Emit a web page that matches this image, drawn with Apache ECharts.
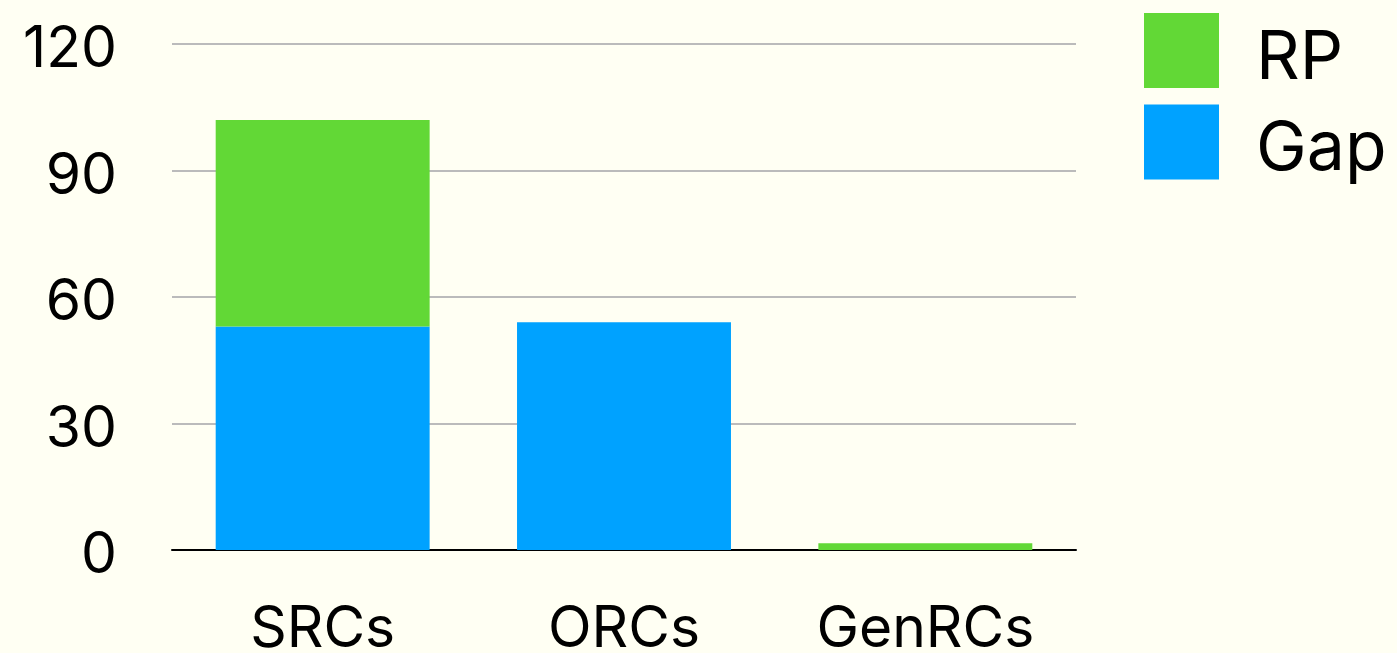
<!DOCTYPE html>
<html>
<head>
<meta charset="utf-8">
<style>
  html, body { margin: 0; padding: 0; background: #FFFFF3; }
  #chart { width: 1397px; height: 653px; }
</style>
<script src="https://cdn.jsdelivr.net/npm/echarts@6/dist/echarts.min.js"></script>
</head>
<body>
<div id="chart"></div>
<script>
  const categories = ['SRCs', 'ORCs', 'GenRCs']
  const gapValues = [53, 54, 0]
  const rpValues = [49, 0, 1.6]
  const yTicks = [0, 30, 60, 90, 120]

  const chart = echarts.init(document.getElementById('chart'))
  chart.setOption({
    backgroundColor: '#FFFFF3',
    animation: false,
    textStyle: { fontFamily: 'Inter' },
    grid: { left: 172, right: 321, top: 44, bottom: 103, outerBoundsMode: 'none' },
    legend: {
      left: 1139,
      top: 8,
      orient: 'vertical',
      itemWidth: 75,
      itemHeight: 75,
      itemGap: 12,
      icon: 'rect',
      data: ['RP', 'Gap'],
      formatter: '{t|{name}}',
      textStyle: {
        color: '#000',
        rich: { t: { fontSize: 68, fontFamily: 'Inter', color: '#000', padding: [16, 0, 0, 32] } }
      }
    },
    xAxis: {
      type: 'category',
      data: categories,
      axisTick: { show: false },
      axisLine: { lineStyle: { color: '#000', width: 2 } },
      axisLabel: { fontSize: 57, color: '#000', margin: 51 }
    },
    yAxis: {
      type: 'value',
      min: yTicks[0],
      max: yTicks[yTicks.length - 1],
      interval: 30,
      axisLine: { show: false },
      axisTick: { show: false },
      axisLabel: { fontSize: 57, color: '#000', margin: 55, verticalAlign: 'top', lineHeight: 12 },
      splitLine: { lineStyle: { color: '#bbbbbb', width: 2 } }
    },
    series: [
      {
        name: 'Gap',
        type: 'bar',
        stack: 'total',
        data: gapValues,
        barWidth: '71%',
        itemStyle: { color: '#00A2FF' }
      },
      {
        name: 'RP',
        type: 'bar',
        stack: 'total',
        data: rpValues,
        barWidth: '71%',
        itemStyle: { color: '#62D836' }
      }
    ]
  })
</script>
</body>
</html>
